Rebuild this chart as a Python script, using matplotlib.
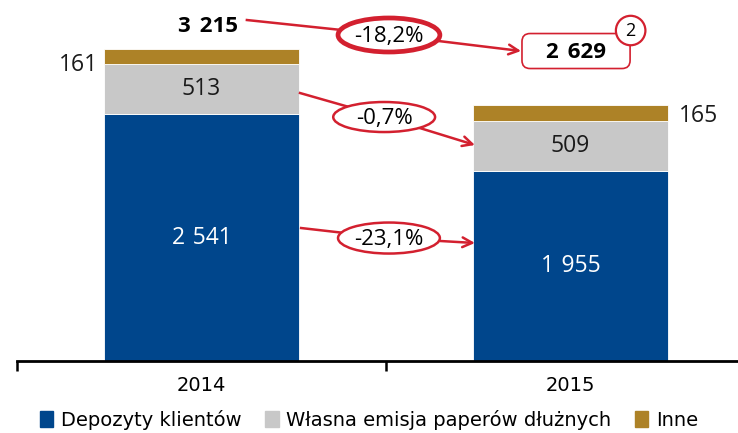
import numpy as np
import matplotlib.pyplot as plt
from matplotlib.patches import Ellipse, FancyBboxPatch, Patch

# Data
years = ['2014', '2015']
deposits = [2541, 1955]
own_issue = [513, 509]
other = [161, 165]
totals = [3215, 2629]
changes = ['-18,2%', '-0,7%', '-23,1%']
series_names = ['Depozyty klientów', 'Własna emisja paperów dłużnych', 'Inne']

blue = '#00468C'
grey = '#C8C8C8'
gold = '#AD8227'
red = '#D3202F'
num_font = ['Open Sans', 'DejaVu Sans']
narrow_font = ['Liberation Sans Narrow', 'DejaVu Sans']


def fmt(v):
    return f'{v:,}'.replace(',', '\u2009\u2009')


fig = plt.figure(figsize=(7.38, 4.33), dpi=100)
ax = fig.add_axes([17 / 738, 72 / 433, 738 / 738, 361 / 433])

x = np.arange(len(years))
w = 0.53
dep = np.array(deposits)
own = np.array(own_issue)
oth = np.array(other)
ax.bar(x, dep, w, color=blue, edgecolor='white', linewidth=0.6)
ax.bar(x, own, w, bottom=dep, color=grey, edgecolor='white', linewidth=0.6)
ax.bar(x, oth, w, bottom=dep + own, color=gold, edgecolor='white', linewidth=0.6)

ax.set_xlim(-0.5, 1.5)
ax.set_ylim(0, 361 / 0.0972)
for s in ['top', 'right', 'left']:
    ax.spines[s].set_visible(False)
ax.spines['bottom'].set_linewidth(2)
ax.set_yticks([])
ax.set_xticks(x)
ax.set_xticklabels(years, fontsize=14, family=narrow_font)
ax.tick_params(axis='x', which='major', length=0, pad=11)
ax.set_xticks([-0.5, 0.5, 1.5], minor=True)
ax.tick_params(axis='x', which='minor', length=7, width=1.8, direction='out')

# segment labels
for i in range(len(years)):
    ax.text(x[i], dep[i] / 2, fmt(deposits[i]), color='white',
            ha='center', va='center', fontsize=16.5, family=num_font)
    ax.text(x[i], dep[i] + own[i] / 2, str(own_issue[i]), color='#1a1a1a',
            ha='center', va='center', fontsize=16.5, family=num_font)
ax.text(x[0] - w / 2 - 0.015, dep[0] + own[0] + oth[0] / 2 - 90, str(other[0]),
        ha='right', va='center', fontsize=16.5, family=num_font, color='#1a1a1a')
ax.text(x[1] + w / 2 + 0.03, dep[1] + own[1] + oth[1] / 2 - 25, str(other[1]),
        ha='left', va='center', fontsize=16.5, family=num_font, color='#1a1a1a')
ax.text(0.018, 3440, fmt(totals[0]), ha='center', va='center',
        fontsize=16, fontweight='bold', family=num_font, color='black')

# change annotations: (start, ellipse centre, arrow tip, ellipse height, line width)
links = [((0.123, 3508), (0.508, 3354), (0.866, 3189), 350, 3.4),
         ((0.267, 2757), (0.495, 2510), (0.741, 2222), 309, 1.8),
         ((0.270, 1368), (0.508, 1265), (0.741, 1214), 319, 1.8)]
for (start, centre, tip, eh, lw), label in zip(links, changes):
    ax.plot([start[0], centre[0]], [start[1], centre[1]], color=red, lw=1.8,
            zorder=4, clip_on=False)
    ax.annotate('', xy=tip, xytext=centre,
                arrowprops=dict(arrowstyle='->,head_length=0.7,head_width=0.35',
                                color=red, lw=1.8, shrinkA=0, shrinkB=0), zorder=4)
    ax.add_patch(Ellipse(centre, 0.276, eh, facecolor='white', edgecolor=red,
                         lw=lw, zorder=5))
    ax.text(centre[0], centre[1] - 15, label, ha='center', va='center', fontsize=16,
            family=num_font, color='black', zorder=6,
            fontweight='medium' if lw > 2 else 'normal')

# total 2015 box
bx, by, bw, bh = 1.015, 3189, 0.293, 360
ax.add_patch(FancyBboxPatch((bx - bw / 2, by - bh / 2), bw, bh,
                            boxstyle='round,pad=0,rounding_size=0.022',
                            mutation_aspect=369 / 0.0972,
                            facecolor='white', edgecolor=red, lw=1.2, zorder=5, clip_on=False))
ax.text(bx, by - 15, fmt(totals[1]), ha='center', va='center',
        fontsize=16, fontweight='bold', family=num_font, zorder=6)
ax.add_patch(Ellipse((1.163, 3400), 0.08, 303, facecolor='white', edgecolor=red,
                     lw=1.6, zorder=6, clip_on=False))
ax.text(1.163, 3390, '2', ha='center', va='center', fontsize=13, family=num_font, zorder=7)

handles = [Patch(color=c) for c in [blue, grey, gold]]
fig.legend(handles, series_names, loc='center', bbox_to_anchor=(0.5, 13 / 433), ncol=3,
           frameon=False, handlelength=0.7, handleheight=0.9, handletextpad=0.4,
           columnspacing=1.2, prop=dict(family=narrow_font, size=14))

fig.savefig('out.png', dpi=100)
